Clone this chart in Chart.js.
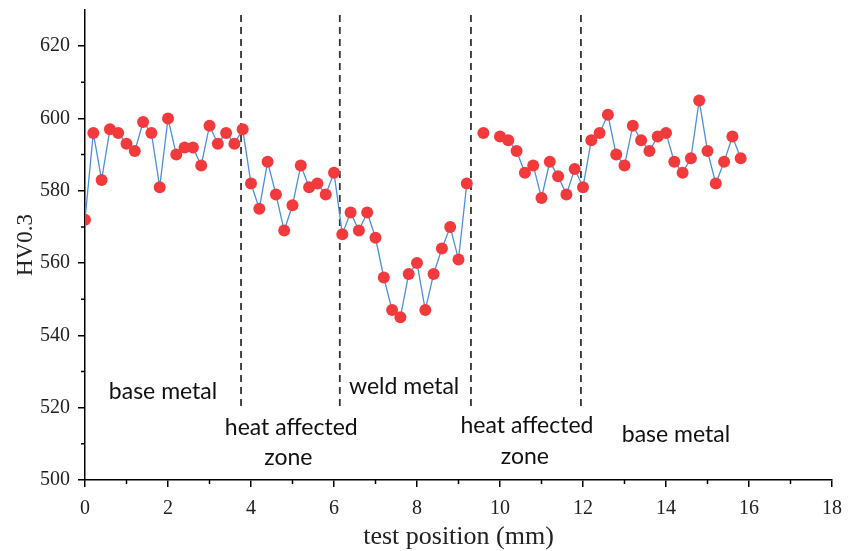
<!DOCTYPE html>
<html>
<head>
<meta charset="utf-8">
<script src="https://cdn.jsdelivr.net/npm/chart.js@4"></script>
<style>
  html, body { margin: 0; padding: 0; background: #fff; }
  #wrap { width: 854px; height: 551px; }
</style>
</head>
<body>
<div id="wrap"><canvas id="hvChart"></canvas></div>
<script>
const positions = [0, 0.2, 0.4, 0.6, 0.8, 1.0, 1.2, 1.4, 1.6, 1.8, 2.0, 2.2, 2.4, 2.6, 2.8, 3.0, 3.2, 3.4, 3.6, 3.8,
  4.0, 4.2, 4.4, 4.6, 4.8, 5.0, 5.2, 5.4, 5.6, 5.8, 6.0, 6.2, 6.4, 6.6, 6.8, 7.0, 7.2, 7.4, 7.6, 7.8,
  8.0, 8.2, 8.4, 8.6, 8.8, 9.0, 9.2, 9.4, 9.6, 9.8, 10.0, 10.2, 10.4, 10.6, 10.8, 11.0, 11.2, 11.4, 11.6, 11.8,
  12.0, 12.2, 12.4, 12.6, 12.8, 13.0, 13.2, 13.4, 13.6, 13.8, 14.0, 14.2, 14.4, 14.6, 14.8, 15.0, 15.2, 15.4, 15.6, 15.8];
const hardness = [572, 596, 583, 597, 596, 593, 591, 599, 596, 581, 600, 590, 592, 592, 587, 598, 593, 596, 593, 597,
  582, 575, 588, 579, 569, 576, 587, 581, 582, 579, 585, 568, 574, 569, 574, 567, 556, 547, 545, 557,
  560, 547, 557, 564, 570, 561, 582, null, 596, null, 595, 594, 591, 585, 587, 578, 588, 584, 579, 586,
  581, 594, 596, 601, 590, 587, 598, 594, 591, 595, 596, 588, 585, 589, 605, 591, 582, 588, 595, 589];

// zone boundaries (dashed lines)
const boundaryX = [3.76, 6.14, 9.3, 11.95];
const boundaryY = [520.5, 629];

// zone names
const zoneText = ['base metal', 'heat affected', 'zone', 'weld metal', 'heat affected', 'zone', 'base metal'];
const zoneX = [1.88, 4.97, 4.9, 7.69, 10.65, 10.6, 14.24];
const zoneY = [524.4, 514.4, 506.1, 525.8, 515, 506.4, 512.5];

const xTicks = [0, 2, 4, 6, 8, 10, 12, 14, 16, 18];
const yTicks = [500, 520, 540, 560, 580, 600, 620];

const serif = "'Liberation Serif', 'DejaVu Serif', serif";

const datasets = [{
  data: positions.map((x, i) => ({ x: x, y: hardness[i] })),
  borderColor: '#4a8fe0',
  borderWidth: 1.3,
  backgroundColor: '#f23a3c',
  pointBackgroundColor: '#f23a3c',
  pointBorderWidth: 0,
  pointRadius: 6,
  spanGaps: false,
  tension: 0,
  order: 0
}];
boundaryX.forEach(bx => {
  datasets.push({
    data: boundaryY.map(by => ({ x: bx, y: by })),
    borderColor: '#333',
    borderWidth: 1.8,
    borderDash: [7, 5],
    pointRadius: 0,
    order: 1
  });
});

// minor ticks and zone names
const extras = {
  id: 'extras',
  afterDraw(chart) {
    const c = chart.ctx, xs = chart.scales.x, ys = chart.scales.y;
    c.save();
    c.strokeStyle = '#000';
    c.lineWidth = 1.5;
    c.beginPath();
    for (let v = 1; v < 18; v += 2) {
      const px = xs.getPixelForValue(v);
      c.moveTo(px, ys.bottom); c.lineTo(px, ys.bottom + 4);
    }
    for (let v = 510; v < 630; v += 20) {
      const py = ys.getPixelForValue(v);
      c.moveTo(xs.left, py); c.lineTo(xs.left - 4, py);
    }
    c.stroke();

    c.fillStyle = '#111';
    c.font = "23px Lato, 'Open Sans', sans-serif";
    c.textAlign = 'center';
    c.textBaseline = 'middle';
    zoneText.forEach((t, i) => {
      c.fillText(t, xs.getPixelForValue(zoneX[i]), ys.getPixelForValue(zoneY[i]));
    });
    c.restore();
  }
};

new Chart(document.getElementById('hvChart'), {
  type: 'line',
  data: { datasets: datasets },
  options: {
    responsive: true,
    maintainAspectRatio: false,
    animation: false,
    layout: { padding: { top: 10, right: 22, left: 0, bottom: 0 } },
    plugins: { legend: { display: false }, tooltip: { enabled: false } },
    scales: {
      x: {
        type: 'linear',
        min: 0, max: 18,
        afterFit: s => { s.height = 71; },
        afterBuildTicks: s => { s.ticks = xTicks.map(v => ({ value: v })); },
        border: { color: '#000', width: 1.5 },
        grid: { drawOnChartArea: false, color: '#000', lineWidth: 1.5, tickLength: 7 },
        ticks: { color: '#222', font: { family: serif, size: 20 }, padding: 10 },
        title: { display: true, text: 'test position (mm)', color: '#222', font: { family: serif, size: 26, lineHeight: 1.05 }, padding: { top: 4, bottom: 0 } }
      },
      y: {
        min: 500, max: 630,
        afterFit: s => { s.width = 85; s.paddingTop = 0; s.paddingBottom = 0; },
        afterBuildTicks: s => { s.ticks = yTicks.map(v => ({ value: v })); },
        border: { color: '#000', width: 1.5 },
        grid: { drawOnChartArea: false, color: '#000', lineWidth: 1.5, tickLength: 7 },
        ticks: { color: '#222', font: { family: serif, size: 20 }, padding: 8 },
        title: { display: true, text: 'HV0.3', color: '#222', font: { family: serif, size: 23 }, padding: { top: 12, bottom: 0 } }
      }
    }
  },
  plugins: [extras]
});
</script>
</body>
</html>
